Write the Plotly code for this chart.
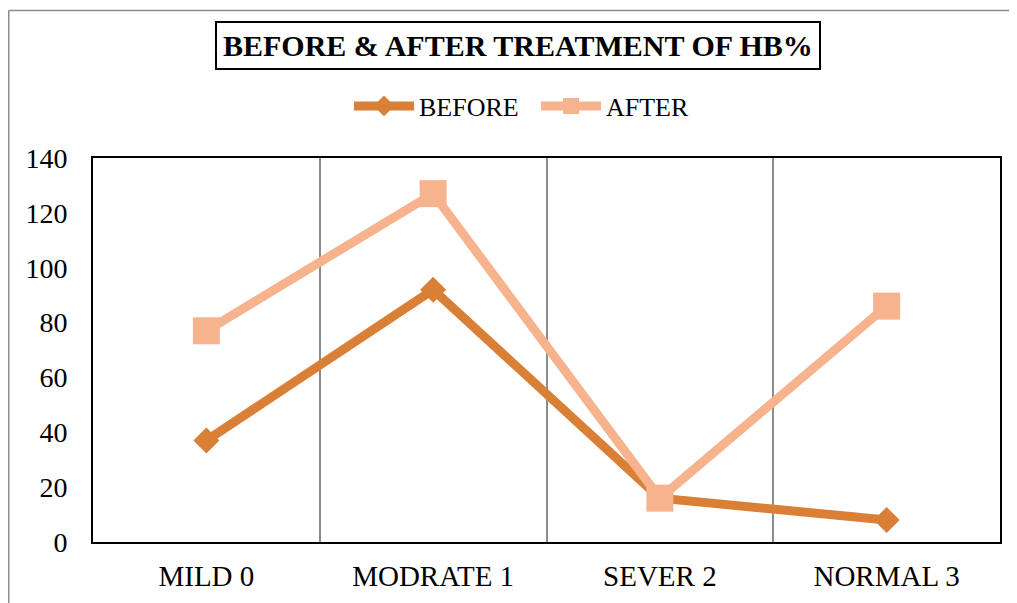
import plotly.graph_objects as go

categories = ["MILD 0", "MODRATE 1", "SEVER 2", "NORMAL 3"]
before_vals = [37, 92, 16, 8]
after_vals = [77, 127, 16, 86]
y_ticks = [0, 20, 40, 60, 80, 100, 120, 140]

FONT = "Liberation Serif"
C_BEFORE = "#D97F36"
C_AFTER = "#F6B38E"

fig = go.Figure()
fig.add_trace(go.Scatter(
    x=categories, y=before_vals, name="BEFORE", mode="lines+markers",
    line=dict(color=C_BEFORE, width=9),
    marker=dict(symbol="diamond", size=20, color=C_BEFORE),
))
fig.add_trace(go.Scatter(
    x=categories, y=after_vals, name="AFTER", mode="lines+markers",
    line=dict(color=C_AFTER, width=9),
    marker=dict(symbol="square", size=27, color=C_AFTER),
))

# page body has an 8px margin, so the figure is laid out in coordinates offset by 8px
OFF = 8
W, H = 1017 - OFF, 603 - OFF
L, R, T, B = 93 - OFF, 17, 158 - OFF, 61
pw, ph = W - L - R, H - T - B

def px_x(v):
    return (v - OFF - L) / pw

def px_y(v):
    return (H - B - (v - OFF)) / ph

fig.update_layout(
    width=W, height=H,
    margin=dict(l=L, r=R, t=T, b=B, pad=0, autoexpand=False),
    paper_bgcolor="white", plot_bgcolor="white",
    font=dict(family=FONT, color="black", size=26),
    showlegend=True,
    legend=dict(
        orientation="h", x=px_x(349), y=px_y(106), xanchor="left", yanchor="middle",
        font=dict(family=FONT, size=26, color="black"),
        itemwidth=60, entrywidth=112, bgcolor="rgba(0,0,0,0)",
    ),
    xaxis=dict(
        type="category", tickson="boundaries", showgrid=True, automargin=False,
        range=[-0.5, len(categories) - 0.5],
        gridcolor="#8c8c8c", gridwidth=1.5,
        showline=True, linecolor="black", linewidth=2, mirror=True,
        ticks="", tickfont=dict(family=FONT, size=29, color="black"),
        ticklabelstandoff=7, zeroline=False,
    ),
    yaxis=dict(
        range=[0, 140], tickvals=y_ticks, showgrid=False, automargin=False,
        showline=True, linecolor="black", linewidth=2, mirror=True,
        ticks="", tickfont=dict(family=FONT, size=28, color="black"),
        ticklabelstandoff=18, zeroline=False,
    ),
    annotations=[dict(
        text="<b>BEFORE &amp; AFTER TREATMENT OF HB%</b>",
        xref="paper", yref="paper", x=px_x(518), y=px_y(45.5),
        xanchor="center", yanchor="middle", showarrow=False,
        font=dict(family=FONT, size=30, color="black"),
        bordercolor="black", borderwidth=2, borderpad=6, bgcolor="white",
    )],
    shapes=[
        dict(type="line", xref="paper", yref="paper",
             x0=px_x(8.75), x1=px_x(1030), y0=px_y(10.5), y1=px_y(10.5),
             line=dict(color="#8c8c8c", width=1.5)),
        dict(type="line", xref="paper", yref="paper",
             x0=px_x(8.75), x1=px_x(8.75), y0=px_y(10.5), y1=px_y(620),
             line=dict(color="#8c8c8c", width=1.5)),
    ],
)

fig.write_html("out.html")
